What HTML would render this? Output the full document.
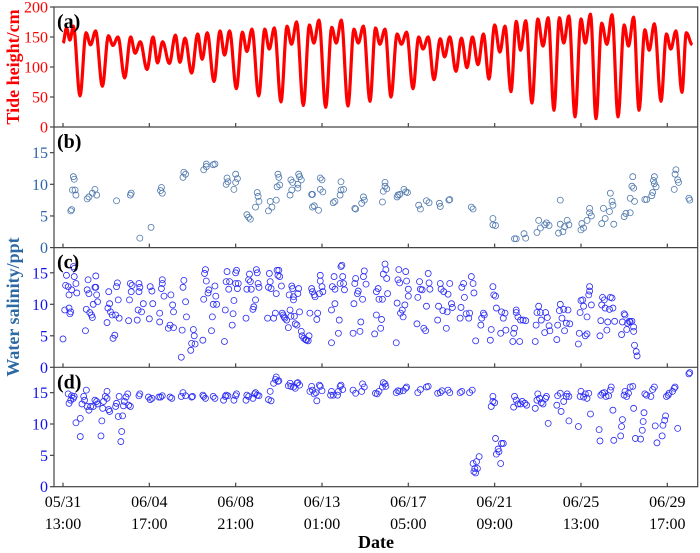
<!DOCTYPE html>
<html><head><meta charset="utf-8"><style>
html,body{margin:0;padding:0;background:#fff;}
svg{display:block;font-family:"Liberation Serif",serif;}
</style></head><body>
<svg id="chart" width="700" height="553" viewBox="0 0 700 553" xmlns="http://www.w3.org/2000/svg"></svg>
<script>
// ---- data (hours since 05/31 13:00) ----
const xTickLabelsDate = ["05/31","06/04","06/08","06/13","06/17","06/21","06/25","06/29"];
const xTickLabelsTime = ["13:00","17:00","21:00","01:00","05:00","09:00","13:00","17:00"];
const xTickHours = [0,100,200,300,400,500,600,700];
const tideTicks = [0,50,100,150,200];
const salTicks = [0,5,10,15];

const tideHours = [0,4,8,12,19.7,26.7,31.9,37.8,45.6,52.6,57.8,63.7,71.4,78.4,83.6,89.5,97.3,104.3,109.5,115.4,123.2,130.2,135.4,141.3,149.0,156.0,161.2,167.1,174.9,181.9,187.1,193.0,200.8,207.8,213.0,218.9,226.7,233.7,238.9,244.8,252.5,259.5,264.7,270.6,278.4,285.4,290.6,296.5,304.3,311.3,316.5,322.4,330.1,337,342,348,355.6,362,367,373,379.9,387,392,398,405.4,412,417,423,429.7,437,442,448,455.2,461.5,467.9,474.3,480.7,487,493.4,500,506,512,518.9,525,530,536,543.2,550,556,562,568.7,575,580,586,593.1,600,605,611,617.4,624,630,636,642.9,650,655,661,667.2,674,679,685,692.7,699,704,710,717.0,722,729];
const tideVals = [140,165,145,168,52,157,137,160,68,152,136,150,82,150,123,142,96,150,107,142,106,153,108,148,90,155,113,157,76,160,120,160,64,158,126,163,52,163,130,165,42,168,138,175,36,170,140,178,33,166,140,178,35,163,140,168,43,165,138,163,50,155,138,158,64,150,130,150,79,147,117,150,93,148,99,150,104,155,80,170,125,168,59,176,128,177,40,180,135,182,28,182,140,185,17,180,140,188,14,173,138,187,17,170,135,183,28,162,128,172,43,155,130,160,58,157,137];

const bHours = [9,10,12,13,11,14,15,28,30,34,37,39,62,79,78,89,102,114,115,113,139,140,142,163,166,166,174,176,189,190,191,198,200,200,202,213,215,217,223,225,226,227,238,240,242,247,248,249,250,251,263,265,264,266,272,273,274,276,272,288,289,289,291,296,298,300,298,301,313,315,321,322,325,322,
338,339,346,348,349,370,371,373,373,375,387,388,390,395,397,399,412,414,421,424,436,437,447,448,473,475,498,498,501,523,525,534,536,549,551,553,558,560,563,574,576,579,576,581,584,586,600,601,603,607,610,610,612,624,626,628,633,634,636,637,638,650,652,657,657,659,660,661,662,674,676,682,683,684,685,687,685,708,709,710,712,713,725,726];
const bVals = [5.8,6.0,11.2,10.8,9.1,9.1,8.3,7.7,8.0,8.6,9.2,8.3,7.4,8.6,8.3,1.5,3.2,9.5,8.6,9.0,11.1,11.9,11.6,12.3,13.2,12.8,13.1,13.2,10.0,11.0,10.4,9.2,10.3,11.6,10.9,5.2,4.8,4.5,6.4,8.7,8.1,7.3,5.8,7.3,6.4,7.5,9.6,11.6,11.1,9.9,8.3,9.1,10.7,10.3,9.4,11.6,11.2,10.7,10.0,8.4,8.4,6.4,6.6,5.9,11.0,10.7,9.2,8.8,7.1,7.3,8.3,10.4,9.2,9.1,
6.2,6.1,7.0,8.0,7.5,7.2,8.9,10.3,9.7,9.3,8.0,8.3,8.4,9.2,8.8,8.7,6.7,6.1,7.4,7.1,7.0,6.5,7.5,7.6,6.4,6.1,4.6,3.6,3.5,1.4,1.4,2.2,1.5,2.4,4.3,3.1,3.6,3.9,3.5,2.3,3.7,2.5,7.5,3.3,4.3,3.6,2.8,3.8,3.1,4.3,6.2,5.5,5.0,3.8,6.2,4.6,5.7,8.6,7.3,6.7,3.7,4.9,5.4,5.5,7.8,9.7,11.2,9.4,7.3,7.6,7.6,8.2,8.7,10.6,11.2,9.6,10.1,9.2,11.6,12.3,10.7,10.3,7.8,7.5];

const cHours = [0,2,3,4,6,7,7,8,9,10,12,13,13,15,16,26,27,28,29,30,31,33,34,35,37,38,38,39,40,51,52,53,54,55,57,58,60,61,62,63,64,65,76,77,78,79,80,86,87,88,88,89,91,93,100,101,103,104,112,112,114,115,115,117,122,124,125,127,128,128,137,138,139,140,142,143,148,149,151,152,153,162,163,164,165,166,168,169,172,173,174,176,177,178,187,188,189,190,192,193,196,197,198,200,200,201,202,203,212,213,215,216,217,218,220,221,223,224,225,226,227,237,238,239,240,241,244,246,247,248,249,250,251,253,254,255,256,257,259,261,262,263,264,265,266,267,267,268,269,271,272,273,274,276,277,279,281,282,284,285,286,288,289,291,292,294,295,297,298,298,300,301,311,311,312,314,315,315,319,320,321,322,323,324,325,326,
336,337,338,339,341,342,344,345,347,348,349,351,361,363,363,365,366,368,369,370,371,373,374,375,376,386,387,388,389,390,391,393,394,396,397,398,400,400,410,411,413,414,416,418,420,421,423,424,425,434,435,437,438,440,441,444,445,446,448,450,451,460,461,462,464,465,467,470,471,473,475,476,478,484,485,487,488,495,496,498,499,501,502,507,508,510,512,513,521,522,523,525,525,527,529,530,533,536,547,548,549,551,553,554,558,559,561,563,564,572,573,575,576,578,580,581,583,585,587,597,598,599,600,602,603,605,607,607,609,610,610,612,622,623,624,625,627,628,630,631,633,634,636,637,639,647,648,650,651,653,654,656,657,659,661,661,662,664,665];
const cVals = [4.5,9.1,13.0,14.6,12.8,9.4,11.5,8.5,8.8,12.3,16.0,15.7,14.4,13.3,11.8,5.8,9.2,12.3,13.9,11.7,8.7,8.3,7.9,10.0,12.7,14.5,12.7,11.5,10.4,7.1,9.4,12.0,10.1,8.8,8.3,4.6,5.1,8.3,12.8,13.4,10.7,7.8,7.4,10.7,13.3,12.0,13.0,7.5,9.1,12.0,13.3,12.7,8.8,10.1,7.7,12.8,12.1,10.1,7.2,8.6,12.5,13.9,13.3,11.3,6.2,6.7,11.5,9.9,8.8,6.3,1.6,5.9,12.7,13.8,10.4,8.0,2.7,3.8,6.0,5.0,3.7,4.3,10.8,14.9,15.5,13.7,11.8,12.3,5.8,8.0,10.0,12.9,11.3,10.0,4.1,9.1,13.6,15.2,12.4,13.6,6.7,8.5,10.6,13.3,15.0,15.4,12.5,13.3,7.8,12.4,13.9,14.8,13.6,12.4,9.2,9.6,10.7,15.5,15.0,13.3,12.7,7.8,12.7,14.9,13.6,12.5,7.8,8.6,11.7,15.4,14.6,15.4,14.4,12.9,8.6,8.3,8.0,7.8,7.5,6.3,11.5,9.1,8.1,12.9,12.5,11.2,10.7,8.1,6.9,6.7,11.7,12.5,8.8,5.7,5.0,4.6,4.4,4.3,4.2,5.0,8.6,12.5,12.0,11.5,11.2,7.6,8.6,11.7,13.7,14.6,12.8,12.0,3.9,9.1,12.8,14.4,12.4,10.1,5.4,7.5,13.3,16.0,16.2,14.4,13.3,12.3,
5.4,10.1,13.3,14.1,11.7,12.1,5.7,7.2,10.8,14.4,15.3,13.2,5.3,8.3,12.0,12.5,10.8,6.2,7.6,10.8,14.8,16.4,15.5,14.1,11.7,3.9,10.2,13.9,15.5,13.4,8.6,9.1,8.0,9.9,15.2,13.7,12.4,11.3,6.9,11.1,13.6,12.4,12.3,6.2,5.8,9.7,14.9,13.4,12.4,7.5,9.7,13.3,12.4,9.0,12.0,6.2,8.8,11.6,13.3,10.1,9.5,7.8,9.5,12.7,13.3,11.1,8.5,7.8,8.6,14.4,13.3,11.8,4.2,6.7,7.8,8.6,8.3,4.3,6.0,12.8,11.5,11.3,9.4,5.4,8.8,7.8,8.6,5.9,4.1,5.4,6.2,8.7,9.1,8.0,4.1,7.5,7.5,7.4,4.1,6.7,8.7,9.7,8.7,7.5,5.5,8.7,7.9,6.6,5.8,4.4,6.7,9.0,10.0,7.8,9.2,5.8,7.0,9.1,6.9,3.7,5.4,8.7,10.6,10.7,9.7,5.0,5.3,8.0,11.5,12.8,12.1,9.9,5.0,7.4,9.9,11.1,10.7,9.4,5.9,7.2,9.2,11.1,11.0,9.4,7.3,5.2,7.2,8.5,8.3,6.0,7.0,7.3,7.2,7.3,6.4,5.7,3.5,2.5,1.8];

const dHours = [6,7,9,10,12,13,15,20,20,22,24,25,27,28,30,32,35,37,39,40,44,45,46,47,49,51,51,53,54,61,62,64,65,67,68,69,70,71,73,75,76,78,88,89,99,101,103,111,113,115,124,126,137,139,142,149,150,162,163,165,174,176,186,188,189,191,198,200,201,212,213,215,220,222,223,225,227,238,240,241,244,246,247,249,250,261,263,264,267,269,271,272,274,286,288,289,291,293,294,297,298,300,310,311,313,318,319,321,322,324,
336,339,346,347,349,362,364,366,370,371,373,374,386,388,390,394,397,398,411,414,421,423,434,437,439,446,448,460,462,471,474,475,476,477,478,479,480,482,496,498,498,500,501,502,504,505,507,508,510,522,523,525,527,530,532,535,537,547,549,550,552,554,556,559,560,562,572,573,576,577,580,583,584,586,586,597,599,600,603,605,607,609,611,621,622,623,625,627,629,632,634,635,637,638,646,647,648,650,651,653,655,657,660,661,663,669,671,672,673,674,676,681,683,685,686,688,694,695,697,698,699,701,702,706,708,709,712,725,726];
const dVals = [14.8,13.3,13.8,14.5,14.1,14.4,10.2,8.0,10.9,13.2,14.4,13.8,15.4,12.8,12.2,12.8,12.8,13.8,13.6,13.2,8.1,10.5,12.5,13.6,14.4,15.2,14.1,12.3,12.0,12.8,13.3,11.2,14.4,7.2,8.8,11.3,12.9,13.6,14.3,14.8,13.0,12.8,14.5,14.8,14.3,13.9,14.1,14.3,14.3,14.5,14.3,14.1,14.4,15.0,14.5,14.3,14.4,14.6,14.4,14.1,14.4,14.1,13.8,14.4,14.6,14.5,13.8,14.5,14.8,13.8,14.6,14.4,14.1,14.8,15.0,14.6,14.5,13.9,15.2,13.7,16.5,17.1,17.5,16.8,16.9,16.1,16.5,16.0,15.9,15.7,16.5,16.6,16.2,15.2,16.0,15.4,14.8,15.0,13.7,16.2,16.0,15.3,14.6,15.2,14.6,14.6,15.2,16.0,16.2,15.5,
15.4,14.9,15.2,16.4,15.9,14.9,14.8,15.2,15.9,16.6,16.4,16.0,15.0,15.3,15.2,15.3,15.7,15.9,15.0,15.5,15.9,16.0,14.9,15.0,15.3,15.4,15.0,15.0,15.2,15.0,15.4,3.7,2.4,2.9,2.2,4.0,2.9,4.8,12.8,13.6,14.4,13.4,7.7,5.2,6.0,5.6,3.7,6.9,6.9,12.7,14.4,13.8,13.2,13.2,13.6,13.3,13.0,12.5,13.8,14.8,14.1,13.4,13.2,14.1,14.4,10.1,13.0,14.5,14.9,12.0,13.6,14.4,14.8,14.4,10.5,9.6,14.4,15.2,14.3,14.8,14.1,14.9,11.6,9.1,7.3,14.6,14.9,15.0,14.4,14.5,15.4,15.9,12.2,7.4,8.1,9.6,10.7,14.6,15.2,14.4,14.9,15.9,16.0,12.5,7.7,7.6,9.0,10.4,11.8,14.8,14.6,14.4,15.5,15.9,9.7,7.0,8.1,9.8,10.6,11.3,14.4,14.6,14.9,15.2,15.7,15.9,9.3,18.0,18.2];

// ---- layout ----
const L=54, R=697.7, TOP=7;
const panels=[{top:7,bot:127},{top:127,bot:247.6},{top:247.6,bot:367.3},{top:367.3,bot:486.7}];
const xScale=h=>63+h*0.8633;
const yTide=v=>127-v*0.6;
const ySal=[null,v=>247.6-v*6.33,v=>367.3-v*6.3,v=>486.7-v*6.27];

const NS="http://www.w3.org/2000/svg";
const svg=document.getElementById('chart');
function mk(tag,attrs,parent){const e=document.createElementNS(NS,tag);for(const k in attrs)e.setAttribute(k,attrs[k]);(parent||svg).appendChild(e);return e;}

// tide line
let d="";
for(let i=0;i<tideHours.length-1;i++){
  const t0=tideHours[i],t1=tideHours[i+1],v0=tideVals[i],v1=tideVals[i+1];
  for(let s=0;s<=8;s++){const f=s/8;const t=t0+(t1-t0)*f;const v=v0+(v1-v0)*(1-Math.cos(Math.PI*f))/2;
    d+=(d?"L":"M")+xScale(t).toFixed(2)+","+yTide(v).toFixed(2);}
}
const tl=mk('path',{d:d,fill:'none',stroke:'#ff0000','stroke-width':3.2,'stroke-linejoin':'round'});



function scatter(hs,vs,ys,color,name){
  const g=mk('g',{});
  
  
  for(let i=0;i<hs.length;i++){
    const c=mk('circle',{cx:xScale(hs[i]).toFixed(2),cy:ys(vs[i]).toFixed(2),r:3,fill:'none',stroke:color,'stroke-width':0.8},g);
    
    
  }
}
scatter(bHours,bVals,ySal[1],'#4f78ad','salinity-b-points');
scatter(cHours,cVals,ySal[2],'#2a2af5','salinity-c-points');
scatter(dHours,dVals,ySal[3],'#2a2af5','salinity-d-points');

// frames, ticks
const fr=mk('rect',{x:L,y:TOP,width:R-L,height:486.7-TOP,fill:'none',stroke:'#444','stroke-width':1.2});


panels.forEach((p,pi)=>{
  if(pi>0){const ln=mk('line',{x1:L,x2:R,y1:p.top,y2:p.top,stroke:'#444','stroke-width':1.2});
    
    }
  xTickHours.forEach(h=>{const t=mk('line',{x1:xScale(h),x2:xScale(h),y1:p.bot,y2:p.bot-4,stroke:'#444','stroke-width':1.2});
    
    });
  const ticks=pi===0?tideTicks:salTicks;
  const ys=pi===0?yTide:ySal[pi];
  const col=pi===0?'#ff0000':(pi===1?'#2d64a5':'#1010ee');
  ticks.forEach(v=>{
    const y=ys(v);
    const t=mk('line',{x1:L-4,x2:L,y1:y,y2:y,stroke:'#444','stroke-width':1.2});
    
    
    const tx=mk('text',{x:L-6,y:y+5.5,'text-anchor':'end','font-size':16,fill:col});
    tx.textContent=v;
    
    
  });
  const lb=mk('text',{x:57,y:p.top+21,'font-size':20,'font-weight':'bold',fill:'#000'});
  lb.textContent='('+'abcd'[pi]+')';
  
  
});
xTickHours.forEach((h,i)=>{
  const a=mk('text',{x:xScale(h),y:507,'text-anchor':'middle','font-size':16,fill:'#000'});
  a.textContent=xTickLabelsDate[i];
  
  
  const b=mk('text',{x:xScale(h),y:529,'text-anchor':'middle','font-size':16,fill:'#000'});
  b.textContent=xTickLabelsTime[i];
  
  
});
const xt=mk('text',{x:376,y:548,'text-anchor':'middle','font-size':18,'font-weight':'bold',fill:'#000'});
xt.textContent='Date';


const yt1=mk('text',{x:0,y:0,transform:'translate(19,67) rotate(-90)','text-anchor':'middle','font-size':18,'font-weight':'bold',fill:'#ff0000'});
yt1.textContent='Tide height/cm';


const yt2=mk('text',{x:0,y:0,transform:'translate(19,307) rotate(-90)','text-anchor':'middle','font-size':18,'font-weight':'bold',fill:'#2d6aa3'});
yt2.textContent='Water salinity/ppt';


</script>
</body></html>
